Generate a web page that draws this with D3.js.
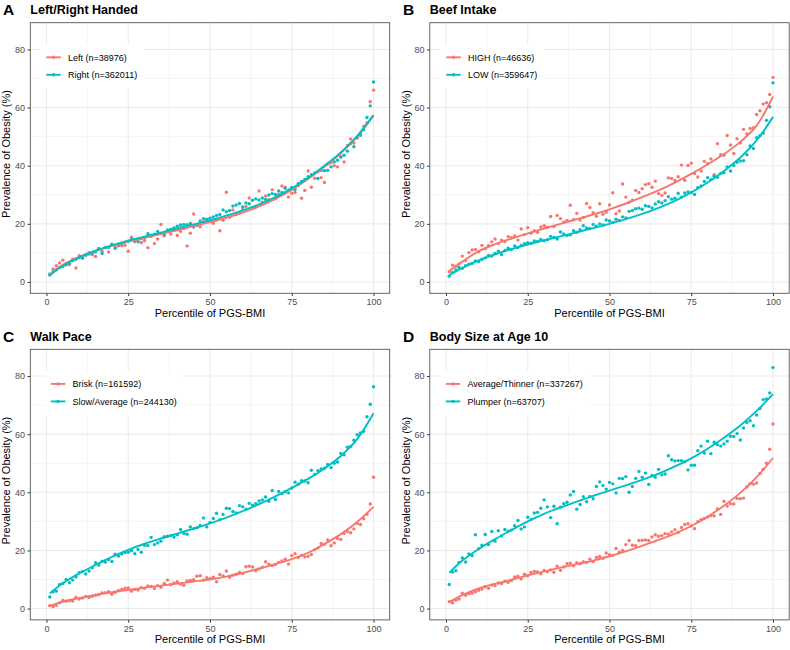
<!DOCTYPE html>
<html><head><meta charset="utf-8">
<script src="https://cdn.jsdelivr.net/npm/d3@7"></script>
<style>
html,body{margin:0;padding:0;background:#fff;}
svg{display:block;font-family:"Liberation Sans",Arial,Helvetica,sans-serif;}
</style></head>
<body><svg id="chart" width="790" height="650"></svg>
<script>
// ---------------- DATA ----------------
const percentiles = d3.range(1, 101);
const fitKnots = [1,5,10,15,20,25,30,35,40,45,50,55,60,65,70,75,80,85,90,95,100];
const xTicks = [0, 25, 50, 75, 100];
const yTicks = [0, 20, 40, 60, 80];
const panelLetters = ["A", "B", "C", "D"];
const panelTitles = ["Left/Right Handed", "Beef Intake", "Walk Pace", "Body Size at Age 10"];
const legendLabels = [
  ["Left (n=38976)", "Right (n=362011)"],
  ["HIGH (n=46636)", "LOW (n=359647)"],
  ["Brisk (n=161592)", "Slow/Average (n=244130)"],
  ["Average/Thinner (n=337267)", "Plumper (n=63707)"]
];

// Panel A
const leftHanded = [2.8,4.5,5.6,6.5,7.5,5.8,6.0,7.8,4.8,9.0,8.6,9.2,10.1,9.4,8.8,11.2,10.6,11.8,10.3,12.9,
  12.0,12.4,12.5,12.6,10.6,15.4,13.8,14.5,13.6,14.2,11.8,15.6,13.2,14.8,19.8,15.9,17.3,16.5,18.4,16.0,
  17.4,18.5,12.4,16.8,23.4,19.5,19.0,20.7,21.6,20.9,20.2,21.4,17.6,21.2,30.9,22.3,24.8,23.2,23.6,24.9,
  26.0,28.9,25.5,25.8,31.3,27.4,29.6,28.3,31.7,28.6,30.1,33.0,32.6,29.2,30.5,30.8,33.2,28.8,31.5,38.2,
  32.6,35.7,37.9,35.9,34.2,40.6,41.0,40.0,39.6,43.1,41.3,46.9,49.2,47.8,49.5,51.2,53.6,54.8,62.0,66.0];
const rightHanded = [2.4,3.5,4.2,5.0,5.4,6.2,6.4,7.4,7.8,8.4,8.2,9.3,9.6,10.0,10.4,11.5,9.8,11.8,11.9,13.0,
  11.6,12.8,13.2,13.7,14.0,14.6,14.3,13.8,14.9,15.2,16.6,16.1,16.4,17.4,16.7,16.3,17.9,18.1,18.6,19.2,
  19.6,19.8,19.7,20.1,18.9,19.6,21.0,21.8,21.5,21.9,22.4,22.9,23.2,24.8,24.2,24.6,26.1,26.5,27.0,25.8,
  27.2,26.9,28.1,28.6,28.2,28.9,28.4,29.9,30.4,30.1,31.3,30.8,32.2,31.6,32.5,31.8,33.9,34.6,35.3,36.2,
  36.9,37.5,35.6,38.4,38.3,38.4,39.6,41.3,41.9,43.0,43.6,45.0,47.6,46.5,49.8,50.5,52.4,56.6,60.6,68.8];
const leftFit  = [2.6,5.9,8.6,10.7,12.4,13.9,15.2,16.5,17.8,19.2,20.6,22.1,23.9,26.0,28.6,31.7,35.4,39.6,44.3,50.0,57.3];
const rightFit = [2.3,5.6,8.5,10.8,12.6,14.2,15.6,17.0,18.4,19.8,21.2,22.8,24.6,26.7,29.2,32.2,35.8,40.0,44.6,50.2,57.4];

// Panel B
const beefHigh = [3.5,5.8,5.4,6.2,8.9,7.4,10.1,11.0,11.2,10.4,12.6,11.4,12.5,13.8,14.8,13.2,14.4,13.9,15.6,15.2,
  15.8,14.4,18.2,16.3,18.7,16.8,17.6,17.1,18.9,19.4,18.8,22.5,19.1,22.9,21.8,20.6,21.2,26.4,21.4,23.6,
  21.3,22.2,27.0,25.6,23.8,22.6,26.9,23.3,24.0,26.5,30.7,23.5,24.4,33.7,29.2,27.4,28.1,31.5,30.8,32.1,
  33.5,33.8,32.6,34.7,30.4,29.8,30.6,35.8,35.6,34.9,36.2,40.2,35.0,40.1,40.9,37.3,36.1,38.2,41.5,40.7,
  42.3,36.9,47.6,43.8,43.6,50.4,47.1,44.2,49.3,47.8,52.5,50.9,52.8,53.1,57.6,58.9,61.2,61.7,64.5,70.4];
const beefLow = [2.0,3.3,4.1,5.0,4.7,5.6,6.1,6.4,7.2,7.0,7.8,8.3,9.1,8.9,9.8,10.6,9.4,10.8,11.6,11.2,
  12.4,11.9,12.6,13.2,13.5,13.3,14.1,13.9,14.6,14.2,14.5,15.7,15.3,14.8,17.2,16.5,16.0,16.2,17.6,17.1,
  18.0,19.4,18.6,18.4,19.8,19.2,20.0,19.6,21.3,21.0,20.5,21.6,21.2,22.4,22.0,24.3,24.6,25.2,25.4,25.0,
  26.2,26.0,25.5,26.8,27.6,27.2,28.0,29.3,28.5,28.8,30.5,29.2,30.6,31.0,30.8,30.1,32.4,33.0,34.6,35.9,
  35.2,36.4,36.0,37.3,37.6,39.6,38.2,40.1,41.2,41.6,41.7,43.8,46.8,45.9,49.6,50.3,51.2,55.6,60.3,68.5];
const beefHighFit = [3.8,7.0,10.6,13.0,14.9,16.7,18.4,20.0,21.6,23.2,25.0,27.0,29.2,31.5,34.2,37.2,40.4,44.0,48.2,53.8,63.8];
const beefLowFit  = [2.3,4.8,7.4,9.5,11.3,12.9,14.3,15.7,17.1,18.5,20.0,21.6,23.4,25.5,27.9,30.8,34.2,38.2,42.8,48.7,56.8];

// Panel C
const walkBrisk = [1.0,0.6,1.1,2.0,2.8,2.5,2.7,2.6,3.8,3.3,3.6,4.2,3.8,4.2,4.6,4.8,5.4,5.5,5.8,4.9,
  5.6,6.2,6.6,7.0,7.1,6.0,6.6,6.4,7.2,7.0,7.8,7.6,6.9,7.9,7.3,8.6,9.8,8.2,8.8,9.2,
  8.4,8.0,9.5,9.7,9.9,11.1,11.3,9.8,10.6,10.3,10.8,9.2,11.7,11.2,12.9,10.8,11.5,11.8,12.4,12.1,
  14.4,14.6,14.3,13.0,13.6,14.2,16.1,15.3,14.8,15.2,15.9,16.4,17.0,15.3,18.2,18.9,17.6,18.3,17.8,18.0,
  18.6,20.2,20.8,22.4,22.1,23.6,21.6,22.6,24.1,23.8,25.8,26.5,26.1,27.4,29.3,28.9,30.9,32.4,36.0,45.2];
const walkSlow = [4.0,5.8,6.0,8.3,8.6,10.0,8.9,9.8,10.9,12.3,12.8,11.9,12.9,14.0,15.8,15.0,16.3,16.0,16.9,16.2,
  18.7,18.1,18.8,19.3,19.4,19.9,18.9,20.3,19.4,21.8,21.7,24.5,22.0,22.6,23.2,24.7,24.9,25.1,24.6,25.4,
  27.2,25.9,25.6,28.1,27.5,27.8,28.6,31.2,28.1,29.6,31.0,32.8,30.6,32.4,34.5,34.4,33.4,32.9,35.4,35.0,
  34.2,36.2,35.6,36.1,37.0,37.4,38.4,36.9,40.6,37.5,40.3,39.6,40.2,39.8,41.5,43.5,42.8,44.0,43.9,43.3,
  47.6,46.1,47.4,48.0,48.3,49.6,48.5,50.0,50.4,53.4,52.9,55.5,55.8,57.9,59.8,60.4,61.0,66.0,70.3,76.3];
const walkBriskFit = [0.9,2.4,3.6,4.7,5.6,6.4,7.2,7.9,8.6,9.3,10.0,11.0,12.3,13.7,15.3,17.0,19.2,22.2,25.6,29.8,35.0];
const walkSlowFit  = [5.2,8.7,12.1,15.0,17.8,20.2,22.3,24.1,25.8,27.5,29.3,31.3,33.5,35.9,38.6,41.5,44.6,48.2,52.5,58.3,67.2];

// Panel D
const bodyAverage = [2.4,2.0,2.9,3.3,5.3,4.6,5.1,5.3,5.8,6.3,6.7,7.5,7.0,8.1,7.9,8.8,8.6,9.4,9.0,9.6,
  10.9,11.1,10.2,11.8,11.3,12.4,12.8,12.6,12.0,13.1,12.7,13.3,12.5,14.6,13.2,14.3,15.4,15.6,14.7,15.8,
  15.4,16.1,15.9,17.0,16.2,17.6,17.9,17.3,19.1,18.5,18.3,20.7,19.4,20.0,22.0,23.4,21.8,21.6,23.4,23.5,
  23.6,23.4,24.6,25.4,24.9,25.1,25.8,25.6,26.4,27.1,26.2,27.9,28.9,29.2,28.4,27.5,29.9,30.6,31.0,31.5,
  32.0,31.9,34.3,32.4,36.9,35.3,36.1,36.0,37.9,37.8,38.0,41.8,43.0,42.8,43.2,46.5,47.9,50.0,54.8,63.5];
const bodyPlumper = [8.3,12.6,13.0,15.9,17.4,16.0,18.8,18.2,25.4,20.6,21.8,25.5,22.0,26.5,23.2,26.8,25.0,27.2,26.6,27.0,
  28.5,30.3,27.4,28.1,31.4,30.6,32.9,33.1,34.5,37.4,35.0,31.3,35.2,29.2,34.9,36.1,36.6,39.1,40.3,34.2,
  35.8,38.5,36.8,38.6,37.8,42.0,43.6,42.3,41.1,43.4,42.9,39.8,44.8,44.7,45.4,40.0,42.0,44.8,47.2,45.2,
  46.6,42.7,45.8,45.2,47.9,46.0,46.3,52.6,51.2,50.8,50.9,50.9,50.5,47.7,49.3,49.3,54.3,55.9,53.5,57.6,
  53.3,57.2,56.4,55.9,56.6,57.6,59.3,59.2,60.2,58.0,62.1,64.0,64.6,62.9,66.6,68.8,71.9,72.1,74.2,82.9];
const bodyAverageFit = [2.2,4.6,6.9,8.5,9.9,11.4,12.8,14.1,15.3,16.5,18.0,19.7,21.6,23.6,25.8,28.4,31.6,35.4,39.8,45.2,51.8];
const bodyPlumperFit = [12.3,16.5,20.5,23.9,27.0,30.0,32.6,34.8,36.8,38.8,40.6,42.4,44.3,46.4,48.9,51.7,55.0,58.8,63.0,68.0,73.8];

const seriesByPanel = [
  [{pts: leftHanded, fit: leftFit}, {pts: rightHanded, fit: rightFit}],
  [{pts: beefHigh, fit: beefHighFit}, {pts: beefLow, fit: beefLowFit}],
  [{pts: walkBrisk, fit: walkBriskFit}, {pts: walkSlow, fit: walkSlowFit}],
  [{pts: bodyAverage, fit: bodyAverageFit}, {pts: bodyPlumper, fit: bodyPlumperFit}]
];

// ---------------- LAYOUT ----------------
const colors = ["#F8766D", "#00BFC4"];
const panelW = 359.4, panelH = 270.6;
const origins = [[30.3, 22.7], [429.8, 22.7], [30.3, 349.3], [429.8, 349.3]];
const legendKeyOffset = [16, 16.5, 20.5, 16];
const svg = d3.select("#chart");

origins.forEach(([ox, oy], i) => {
  const g = svg.append("g");
  const x = d3.scaleLinear().domain([-4.95, 104.95]).range([ox, ox + panelW]);
  const y = d3.scaleLinear().domain([-3.9, 89.2]).range([oy + panelH, oy]);

  g.append("rect").attr("x", ox).attr("y", oy).attr("width", panelW).attr("height", panelH).attr("fill", "#fff");

  // grid
  const gx = g.append("g");
  const minorX = [12.5, 37.5, 62.5, 87.5], minorY = [10, 30, 50, 70];
  minorX.forEach(v => gx.append("line").attr("x1", x(v)).attr("x2", x(v)).attr("y1", oy).attr("y2", oy + panelH)
    .attr("stroke", "#EDEDED").attr("stroke-width", 0.6));
  minorY.forEach(v => gx.append("line").attr("y1", y(v)).attr("y2", y(v)).attr("x1", ox).attr("x2", ox + panelW)
    .attr("stroke", "#EDEDED").attr("stroke-width", 0.6));
  xTicks.forEach(v => gx.append("line").attr("x1", x(v)).attr("x2", x(v)).attr("y1", oy).attr("y2", oy + panelH)
    .attr("stroke", "#EBEBEB").attr("stroke-width", 1.1));
  yTicks.forEach(v => gx.append("line").attr("y1", y(v)).attr("y2", y(v)).attr("x1", ox).attr("x2", ox + panelW)
    .attr("stroke", "#EBEBEB").attr("stroke-width", 1.1));

  // points
  const series = seriesByPanel[i];
  series.forEach((s, k) => {
    g.append("g").selectAll("circle").data(s.pts).join("circle")
      .attr("cx", (d, j) => x(percentiles[j])).attr("cy", d => y(d)).attr("r", 1.7)
      .attr("fill", colors[k]);
  });
  // fit lines
  const line = d3.line().x((d, j) => x(fitKnots[j])).y(d => y(d)).curve(d3.curveCatmullRom.alpha(0.5));
  series.forEach((s, k) => {
    g.append("path").attr("d", line(s.fit)).attr("fill", "none").attr("stroke", colors[k]).attr("stroke-width", 1.9);
  });

  // axes
  const axX = d3.axisBottom(x).tickValues(xTicks).tickSize(2.75).tickPadding(3).tickFormat(d3.format("d"));
  const axY = d3.axisLeft(y).tickValues(yTicks).tickSize(2.75).tickPadding(2.5).tickFormat(d3.format("d"));
  const gX = g.append("g").attr("transform", `translate(0,${oy + panelH})`).call(axX);
  const gY = g.append("g").attr("transform", `translate(${ox},0)`).call(axY);
  [gX, gY].forEach(a => {
    a.select(".domain").remove();
    a.selectAll(".tick line").attr("stroke", "#333");
    a.selectAll(".tick text").attr("fill", "#4D4D4D").style("font-size", "9px")
      .style("font-family", '"Liberation Sans",Arial,sans-serif');
  });

  // border
  g.append("rect").attr("x", ox).attr("y", oy).attr("width", panelW).attr("height", panelH)
    .attr("fill", "none").attr("stroke", "#555").attr("stroke-width", 0.9);

  // legend
  const lg = g.append("g");
  const kx = ox + legendKeyOffset[i];
  const rows = [oy + 34.6, oy + 52.1];
  const bg = lg.append("rect").attr("fill", "#fff");
  let maxEnd = 0;
  legendLabels[i].forEach((lab, k) => {
    lg.append("line").attr("x1", kx).attr("x2", kx + 14.5).attr("y1", rows[k]).attr("y2", rows[k])
      .attr("stroke", colors[k]).attr("stroke-width", 1.9);
    lg.append("circle").attr("cx", kx + 7.25).attr("cy", rows[k]).attr("r", 1.7).attr("fill", colors[k]);
    const t = lg.append("text").attr("x", kx + 21.7).attr("y", rows[k] + 3.2).text(lab)
      .style("font-size", "9px").attr("fill", "#000");
    maxEnd = Math.max(maxEnd, kx + 21.7 + t.node().getComputedTextLength());
  });
  bg.attr("x", kx - 6).attr("y", rows[0] - 12.5).attr("width", maxEnd + 7 - (kx - 6)).attr("height", rows[1] - rows[0] + 26);

  // axis titles
  g.append("text").attr("x", ox + panelW / 2).attr("y", oy + panelH + 23.3).attr("text-anchor", "middle")
    .style("font-size", "11px").attr("fill", "#000").text("Percentile of PGS-BMI");
  g.append("text").attr("transform", `translate(${ox - 20},${oy + panelH / 2 - 4}) rotate(-90)`)
    .attr("text-anchor", "middle").style("font-size", "11px").attr("fill", "#000").text("Prevalence of Obesity (%)");

  // panel letter and title
  const lx = i % 2 === 0 ? 3 : 403;
  g.append("text").attr("x", lx).attr("y", oy - 7.5).style("font-size", "15.5px").style("font-weight", "bold")
    .attr("fill", "#000").text(panelLetters[i]);
  g.append("text").attr("x", ox).attr("y", oy - 8.3).style("font-size", "12.5px").style("font-weight", "bold")
    .attr("fill", "#000").text(panelTitles[i]);
});
</script>
</body></html>
